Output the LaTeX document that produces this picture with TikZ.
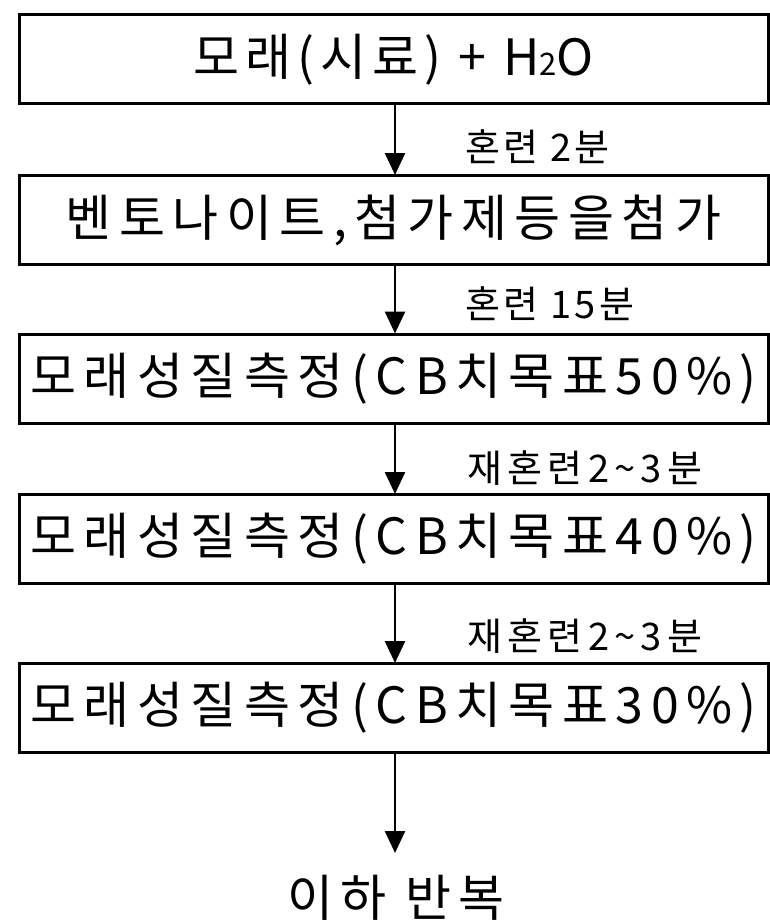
\documentclass[tikz,border=0pt]{standalone}
\usepackage{fontspec}
\newfontfamily\kr{Noto Sans CJK KR}
\usetikzlibrary{arrows.meta}
\tikzset{
  stepbox/.style={draw, line width=3pt, inner sep=0pt, minimum width=749pt, minimum height=89pt, anchor=center},
  boxtext/.style={font=\kr\fontsize{50}{50}\selectfont},
  lbl/.style={anchor=south west, inner sep=0pt, font=\kr\fontsize{38}{38}\selectfont},
  flow/.style={line width=2.5pt, -{Triangle[length=22pt,width=20pt]}, shorten >=-1pt}
}
\begin{document}
\begin{tikzpicture}[x=1pt,y=-1pt]
\useasboundingbox (0,0) rectangle (770,923);
\node[stepbox, boxtext] (b1) at (393.5,59.5) {\addfontfeature{LetterSpace=12}모래(시료) + H{\fontsize{31}{31}\selectfont 2}O};
\node[stepbox, boxtext] (b2) at (393.5,220) {\addfontfeature{LetterSpace=15}벤토나이트,첨가제등을첨가};
\node[stepbox, boxtext] (b3) at (393.5,378.5) {\addfontfeature{LetterSpace=15}모래성질측정(CB치목표50\%)};
\node[stepbox, boxtext] (b4) at (393.5,539) {\addfontfeature{LetterSpace=15}모래성질측정(CB치목표40\%)};
\node[stepbox, boxtext] (b5) at (393.5,708) {\addfontfeature{LetterSpace=15}모래성질측정(CB치목표30\%)};
\node[boxtext, inner sep=0pt, anchor=center] (rep) at (396,898) {\addfontfeature{LetterSpace=15}이하 반복};
\coordinate (endp) at (395,852);

\draw[flow] (b1.south -| 395,0) -- (b2.north -| 395,0);
\draw[flow] (b2.south -| 395,0) -- (b3.north -| 395,0);
\draw[flow] (b3.south -| 395,0) -- (b4.north -| 395,0);
\draw[flow] (b4.south -| 395,0) -- (b5.north -| 395,0);
\draw[flow] (b5.south -| 395,0) -- (endp);

\node[lbl] (l1) at (465,164) {\addfontfeature{LetterSpace=9}혼련 2분};
\node[lbl] (l2) at (465,321) {\addfontfeature{LetterSpace=9}혼련 15분};
\node[lbl] (l3) at (467,486) {\addfontfeature{LetterSpace=14}재혼련2\textasciitilde 3분};
\node[lbl] (l4) at (467,654) {\addfontfeature{LetterSpace=14}재혼련2\textasciitilde 3분};
\end{tikzpicture}
\end{document}
